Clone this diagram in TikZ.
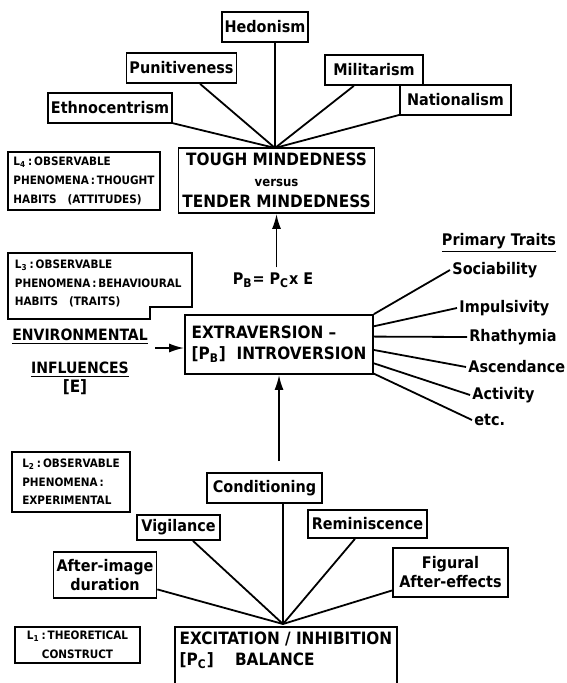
\documentclass[tikz,border=0pt]{standalone}
\usepackage{fontspec}
\setmainfont{DejaVu Sans Condensed}
\usetikzlibrary{arrows.meta,positioning,calc}

\tikzset{
  trait/.style={draw, line width=0.9pt, font=\bfseries\fontsize{8}{9.5}\selectfont, inner sep=1.5pt, align=center},
  level/.style={draw, line width=0.9pt, font=\bfseries\fontsize{5.8}{9.3}\selectfont, inner sep=2pt, align=left},
  factor/.style={line width=0.9pt, font=\bfseries\fontsize{8.5}{10.5}\selectfont, inner sep=2pt},
  prim/.style={font=\bfseries\fontsize{8}{9}\selectfont, inner sep=1pt, anchor=west},
  link/.style={line width=0.9pt},
  pil/.style={line width=0.9pt, -{Latex[length=7.5pt,width=4.5pt]}}
}

\begin{document}
\begin{tikzpicture}[x=0.5pt,y=-0.5pt]
\useasboundingbox (0,0) rectangle (566,683);

% level L4: attitudes
\node[trait, minimum width=43pt, minimum height=15pt] (hed) at (265,27) {Hedonism};
\node[trait, minimum width=51.5pt, minimum height=15pt] (pun) at (181.5,68) {Punitiveness};
\node[trait, minimum width=49pt, minimum height=15pt] (mil) at (374,70) {Militarism};
\node[trait, minimum width=62pt, minimum height=15pt] (eth) at (110,108) {Ethnocentrism};
\node[trait, minimum width=55.5pt, minimum height=15pt] (nat) at (455.5,100) {Nationalism};
\node[factor, draw, align=center, minimum width=92.5pt, minimum height=32.5pt] (tough) at (276.5,180.5)
  {TOUGH MINDEDNESS\\{\fontsize{6.5}{7}\selectfont versus}\\TENDER MINDEDNESS};
\node[level, minimum width=76pt, minimum height=29pt] (l4) at (84,181)
  {L\textsubscript{4}\,:\,OBSERVABLE\\PHENOMENA\,:\,THOUGHT\\HABITS \ \ (ATTITUDES)};
\coordinate (hubT) at (275,148);
\foreach \a in {eth,pun,mil,nat}
  \draw[link] (\a) -- (hubT);
\draw[link] (hed.south -| hubT) -- (hubT);

% level L3: traits
\draw[link] (8,253) -- (192,253) -- (192,307) -- (150,307) -- (150,319) -- (8,319) -- cycle;
\node[level, draw=none, anchor=north west] (l3) at (10,255)
  {L\textsubscript{3}\,:\,OBSERVABLE\\PHENOMENA\,:\,BEHAVIOURAL\\HABITS \ \ (TRAITS)};
\node[factor, font=\bfseries\fontsize{8}{9}\selectfont] (form) at (273,280)
  {P\textsubscript{B}= P\textsubscript{C}x E};
\node[factor, draw, align=left, minimum width=94pt, minimum height=29.5pt] (extra) at (279,344.5)
  {EXTRAVERSION --\\{[}P\textsubscript{B}{]} \ INTROVERSION};
\draw[pil] (tough.south |- form.north) -- (tough.south);

\node[factor, align=center, font=\bfseries\fontsize{7.8}{16.5}\selectfont] (env) at (80,353)
  {\underline{ENVIRONMENTAL}\\\underline{INFLUENCES}};
\node[factor] (envE) at (75,387) {{[}E{]}};
\coordinate (envout) at (155,348);
\draw[pil] (envout) -- (envout -| extra.west);

\node[prim, anchor=center] (ptr) at (499,243) {\underline{Primary Traits}};
\node[prim] (soc) at (450,270) {Sociability};
\node[prim] (imp) at (457,308) {Impulsivity};
\node[prim] (rha) at (467,337) {Rhathymia};
\node[prim] (asc) at (466,367) {Ascendance};
\node[prim] (act) at (470,395) {Activity};
\node[prim] (etc) at (472,420) {etc.};
\foreach \t/\f in {soc/0.0, imp/0.2, rha/0.37, asc/0.59, act/0.81, etc/0.98}
  \draw[link] ($(extra.north east)!\f!(extra.south east)$) -- (\t.west);

% level L2: experimental
\node[level, minimum width=59pt, minimum height=30pt] (l2) at (71,482)
  {L\textsubscript{2}\,:\,OBSERVABLE\\PHENOMENA\,:\\EXPERIMENTAL};
\node[trait, minimum width=57.5pt, minimum height=15pt] (cond) at (264.5,488) {Conditioning};
\node[trait, minimum width=41.5pt, minimum height=12.5pt] (vig) at (178.5,527.5) {Vigilance};
\node[trait, minimum width=59.5pt, minimum height=14pt] (rem) at (367.5,524) {Reminiscence};
\node[trait, minimum width=50pt, minimum height=23pt] (aft) at (105,575) {After-image\\duration};
\node[trait, minimum width=57.5pt, minimum height=24.5pt] (fig) at (450.5,572.5) {Figural\\After-effects};
\draw[pil] ($(cond.north -| extra.south)+(0,-11)$) -- (extra.south);

% level L1: construct
\node[level, align=center, minimum width=62.5pt, minimum height=17pt] (l1) at (77.5,645)
  {L\textsubscript{1}\,:\,THEORETICAL\\CONSTRUCT};
\node[factor, align=left, anchor=north, minimum width=106pt] (exc) at (286,627)
  {EXCITATION / INHIBITION\\{[}P\textsubscript{C}{]} \ \ \ BALANCE};
\draw[link] (exc.north west) rectangle ([yshift=-12pt]exc.south east);
\coordinate (hubB) at (283,624);
\foreach \a in {aft,vig,rem,fig}
  \draw[link] (\a) -- (hubB);
\draw[link] (cond.south -| hubB) -- (hubB);
\end{tikzpicture}
\end{document}
